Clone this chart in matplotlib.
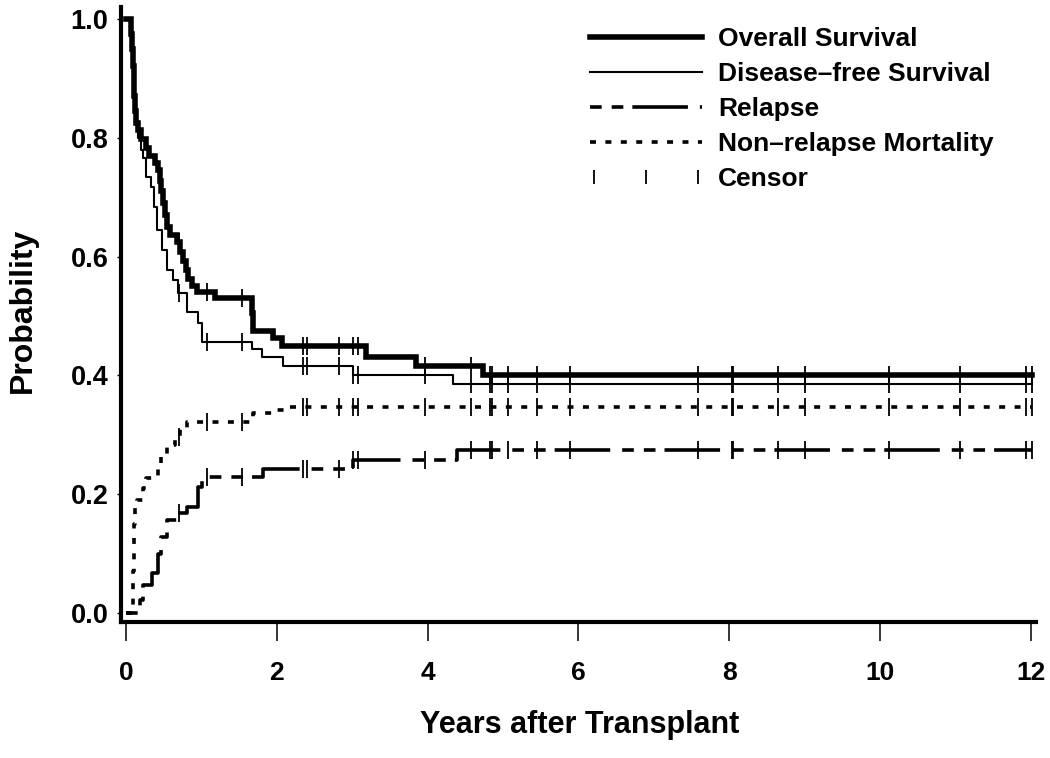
import numpy as np
import matplotlib
matplotlib.use("Agg")
import matplotlib.pyplot as plt
from matplotlib.lines import Line2D
from matplotlib.legend_handler import HandlerLine2D

plt.rcParams['font.family'] = ['Liberation Sans', 'DejaVu Sans']
plt.rcParams['font.weight'] = 'bold'
plt.rcParams['lines.scale_dashes'] = False

# ---- data ----
os_t = [0, 0.07, 0.08, 0.09, 0.10, 0.11, 0.12, 0.13, 0.16, 0.20, 0.26, 0.31, 0.38, 0.42,
        0.45, 0.47, 0.49, 0.52, 0.55, 0.58, 0.68, 0.72, 0.75, 0.79, 0.82, 0.88, 0.94,
        1.18, 1.67, 1.69, 1.95, 2.07, 3.18, 3.84, 4.73]
os_s = [1.0, 0.975, 0.95, 0.92, 0.895, 0.87, 0.845, 0.825, 0.813, 0.798, 0.783, 0.770,
        0.757, 0.745, 0.728, 0.710, 0.690, 0.670, 0.650, 0.637, 0.625, 0.608, 0.592,
        0.577, 0.562, 0.550, 0.540, 0.530, 0.505, 0.475, 0.463, 0.449, 0.431, 0.416, 0.400]

dfs_t = [0, 0.07, 0.08, 0.09, 0.10, 0.11, 0.12, 0.13, 0.16, 0.20, 0.22, 0.27, 0.33, 0.37,
         0.41, 0.48, 0.54, 0.62, 0.69, 0.81, 0.95, 1.01, 1.67, 1.80, 2.08, 3.01, 4.34]
dfs_s = [1.0, 0.975, 0.95, 0.92, 0.895, 0.87, 0.845, 0.825, 0.80, 0.78, 0.766, 0.734,
         0.717, 0.683, 0.645, 0.611, 0.577, 0.561, 0.539, 0.507, 0.488, 0.456, 0.444,
         0.431, 0.416, 0.401, 0.386]

rel_t = [0, 0.18, 0.23, 0.34, 0.42, 0.47, 0.54, 0.69, 0.81, 0.96, 1.01, 1.82, 3.01, 4.39]
rel_s = [0, 0.022, 0.047, 0.067, 0.10, 0.128, 0.157, 0.168, 0.178, 0.212, 0.229,
         0.242, 0.258, 0.274]

nrm_t = [0, 0.09, 0.095, 0.10, 0.11, 0.12, 0.14, 0.22, 0.27, 0.42, 0.47, 0.55, 0.65,
         0.72, 0.81, 1.68, 1.99, 2.10]
nrm_s = [0, 0.03, 0.07, 0.11, 0.15, 0.18, 0.19, 0.21, 0.227, 0.246, 0.265, 0.283,
         0.296, 0.31, 0.321, 0.336, 0.342, 0.347]

censor_t = [0.70, 1.08, 1.54, 2.35, 2.40, 2.82, 3.01, 3.08, 3.97, 4.58, 4.83, 4.85,
            5.06, 5.45, 5.89, 7.59, 8.03, 8.05, 8.64, 9.00, 10.12, 11.06, 11.94, 12.02]
end_t = 12.02

x_ticks = [0, 2, 4, 6, 8, 10, 12]
y_ticks = [0.0, 0.2, 0.4, 0.6, 0.8, 1.0]
y_ticklabels = ['0.0', '0.2', '0.4', '0.6', '0.8', '1.0']

labels = ['Overall Survival', 'Disease\u2013free Survival', 'Relapse',
          'Non\u2013relapse Mortality', 'Censor']

# ---- figure ----
fig = plt.figure(figsize=(10.5, 7.58), dpi=100)
ax = fig.add_axes([121 / 1050, 1 - 622 / 758, (1035.5 - 121) / 1050, (622 - 7) / 758])

rel_style = dict(color='black', lw=2.6, linestyle=(0, (8.4, 7.2, 8.4, 6.5, 40, 8.6)))
nrm_style = dict(color='black', lw=2.6, linestyle=(0, (4.3, 6.8)))
series = [
    (os_t, os_s, dict(color='black', lw=4.0, solid_joinstyle='miter')),
    (dfs_t, dfs_s, dict(color='black', lw=1.5)),
    (rel_t, rel_s, rel_style),
    (nrm_t, nrm_s, nrm_style),
]

for t, s, st in series:
    tt = np.append(t, end_t)
    ss = np.append(s, s[-1])
    ax.step(tt, ss, where='post', **st)
    # censor marks at the curve value at each censor time
    idx = np.searchsorted(t, censor_t, side='right') - 1
    cv = np.asarray(s)[idx]
    ax.plot(censor_t, cv, linestyle='none', marker='|', markersize=13,
            markeredgewidth=1.3, color='black')

ax.set_xlim(-0.066, 12.06)
ax.set_ylim(-0.015, 1.02)
ax.spines['top'].set_visible(False)
ax.spines['right'].set_visible(False)
ax.spines['left'].set_linewidth(3.0)
ax.spines['bottom'].set_linewidth(3.0)

ax.set_xticks(x_ticks)
ax.set_xticklabels([str(v) for v in x_ticks])
ax.set_yticks(y_ticks)
ax.set_yticklabels(y_ticklabels)
ax.tick_params(axis='x', direction='out', length=14, width=1.1, pad=14, labelsize=19)
ax.tick_params(axis='y', direction='out', length=3, width=1.0, pad=6, labelsize=19.5)
for lab in ax.get_xticklabels() + ax.get_yticklabels():
    lab.set_fontweight('bold')

ax.set_xlabel('Years after Transplant', fontsize=22, fontweight='bold')
ax.xaxis.label.set_va('center')
ax.xaxis.set_label_coords(0.501, -0.168)
ax.set_ylabel('Probability', fontsize=23, fontweight='bold')
ax.yaxis.label.set_va('center')
ax.yaxis.set_label_coords(-0.107, 0.507)

censor_handle = Line2D([], [], linestyle='none', marker='|', markersize=10,
                       markeredgewidth=1.3, color='black')
handles = [
    Line2D([], [], color='black', lw=4.0),
    Line2D([], [], color='black', lw=1.5),
    Line2D([], [], **rel_style),
    Line2D([], [], **nrm_style),
    censor_handle,
]
leg = ax.legend(handles, labels, loc='upper left', bbox_to_anchor=(582 / 1050, 1 - 27 / 758),
                bbox_transform=fig.transFigure, frameon=False, numpoints=3,
                prop={'weight': 'bold', 'size': 19}, handlelength=4.85,
                handletextpad=0.30, labelspacing=0.42, borderpad=0, borderaxespad=0,
                handler_map={censor_handle: HandlerLine2D(marker_pad=0.46, numpoints=3)})

fig.savefig('out.png', dpi=100, facecolor='white')
